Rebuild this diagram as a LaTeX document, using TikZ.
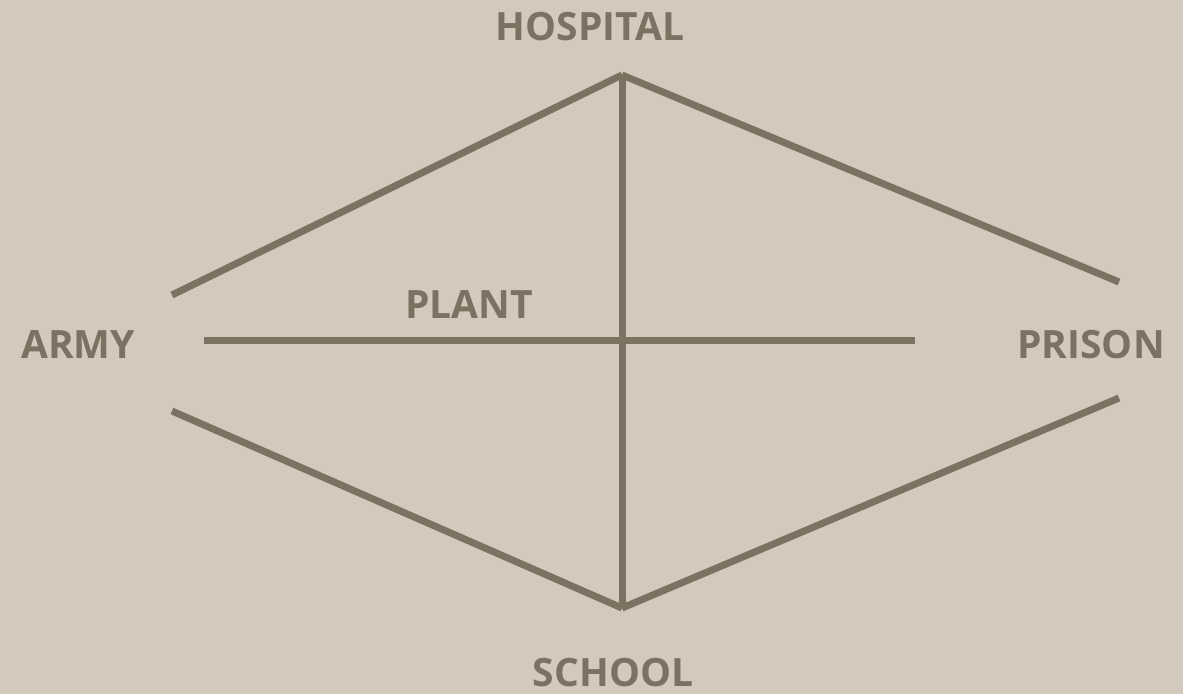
\documentclass[tikz,border=0pt]{standalone}
\usepackage{fontspec}
\setmainfont{Open Sans}
\definecolor{bg}{HTML}{D3C9BD}
\definecolor{ln}{HTML}{7C7262}
\begin{document}
\begin{tikzpicture}[x=1pt,y=-1pt,
  lbl/.style={text=ln,font=\fontsize{39}{41}\selectfont\bfseries,inner sep=0pt},
  bar/.style={draw=ln,line width=7pt,line cap=butt}]
\fill[bg] (0,0) rectangle (1183,694);
\useasboundingbox (0,0) rectangle (1183,694);
\coordinate (top) at (622,75);
\coordinate (bot) at (622,608);
\coordinate (ul) at (172,295);
\coordinate (ll) at (172,411);
\coordinate (ur) at (1119,282);
\coordinate (lr) at (1119,398);
\coordinate (hl) at (204,340);
\coordinate (hr) at (915,340);
\draw[bar] (ul) -- (top);
\draw[bar] (top) -- (ur);
\draw[bar] (ll) -- (bot);
\draw[bar] (bot) -- (lr);
\draw[bar] (top) -- (bot);
\draw[bar] (hl) -- (hr);
\node[lbl] (hospital) at (590,27) {HOSPITAL};
\node[lbl] (army) at (78,345) {ARMY};
\node[lbl] (plant) at (469,305) {PLANT};
\node[lbl] (prison) at (1091,345) {PRISON};
\node[lbl] (school) at (613,673) {SCHOOL};
\end{tikzpicture}
\end{document}
